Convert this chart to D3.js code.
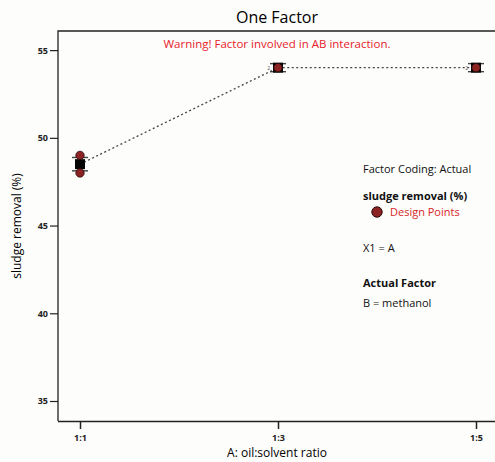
<!DOCTYPE html>
<html>
<head>
<meta charset="utf-8">
<script src="https://cdn.jsdelivr.net/npm/d3@7"></script>
<style>
  html, body { margin: 0; padding: 0; background: #fdfdfb; }
  svg { display: block; font-family: "Open Sans", "Noto Sans", sans-serif; }
</style>
</head>
<body>
<svg id="chart" width="495" height="462"></svg>
<script>
// Factor levels on the x axis
const categories = ["1:1", "1:3", "1:5"];
// Predicted mean response at each level
const predicted = [48.5, 54.0, 54.0];
// Half-width of the confidence interval at each level
const ciHalf = [0.38, 0.23, 0.23];
// Observed design points (level, response)
const designLevels = ["1:1", "1:1", "1:3", "1:5"];
const designValues = [49.0, 48.0, 54.0, 54.0];
// Replicate counts shown next to points
const replicateLevels = ["1:3", "1:5"];
const replicateCounts = ["2", "2"];
// Y tick values
const yTicks = [35, 40, 45, 50, 55];

const svg = d3.select("#chart");
const plot = { left: 58, right: 495, top: 31, bottom: 421 };

const x = d3.scalePoint().domain(categories).range([80, 476]);
const y = d3.scaleLinear().domain([33.86, 56.09]).range([plot.bottom, plot.top]);

// Title
svg.append("text").attr("x", 277).attr("y", 23).attr("text-anchor", "middle")
  .attr("font-size", 16).attr("fill", "#000").text("One Factor");

// Frame (left and top edges; the plot runs off the right side)
svg.append("path")
  .attr("d", `M${plot.left},${plot.bottom}V${plot.top}H${plot.right}`)
  .attr("fill", "none").attr("stroke", "#222").attr("stroke-width", 1.3);

// Warning
svg.append("text").attr("x", 277).attr("y", 48).attr("text-anchor", "middle")
  .attr("font-size", 11.5).attr("fill", "#e8202a").text("Warning! Factor involved in AB interaction.");

// Axes
const yAxis = d3.axisLeft(y).tickValues(yTicks).tickSize(8).tickPadding(2);
const gy = svg.append("g").attr("transform", `translate(${plot.left},0)`).call(yAxis);
gy.select(".domain").remove();
gy.selectAll("line").attr("stroke", "#222").attr("stroke-width", 1.2);
gy.selectAll("text").attr("font-size", 9).attr("font-weight", 700).attr("fill", "#222")
  .attr("font-family", "'Open Sans', sans-serif");

const xAxis = d3.axisBottom(x).tickSize(8).tickPadding(6);
const gx = svg.append("g").attr("transform", `translate(0,${plot.bottom})`).call(xAxis);
gx.select(".domain").attr("d", `M${plot.left},0.5H${plot.right}`).attr("stroke", "#222").attr("stroke-width", 1.3);
gx.selectAll("line").attr("stroke", "#222").attr("stroke-width", 1.5);
gx.selectAll("text").attr("font-size", 9).attr("font-weight", 700).attr("fill", "#222")
  .attr("font-family", "'Open Sans', sans-serif");

// Axis titles
svg.append("text").attr("x", 277).attr("y", 457).attr("text-anchor", "middle")
  .attr("font-size", 12).attr("fill", "#000").text("A: oil:solvent ratio");
svg.append("text").attr("transform", "translate(21,226) rotate(-90)").attr("text-anchor", "middle")
  .attr("font-size", 12).attr("fill", "#000").text("sludge removal (%)");

// Prediction line
const line = d3.line().x((d, i) => x(categories[i])).y(d => y(d));
svg.append("path").datum(predicted).attr("d", line)
  .attr("fill", "none").attr("stroke", "#444").attr("stroke-width", 1.3)
  .attr("stroke-dasharray", "2,2.5");

// Confidence interval bars
const ci = svg.append("g");
predicted.forEach((v, i) => {
  const cx = x(categories[i]);
  const lo = y(v - ciHalf[i]), hi = y(v + ciHalf[i]);
  ci.append("line").attr("x1", cx).attr("x2", cx).attr("y1", lo).attr("y2", hi)
    .attr("stroke", "#333").attr("stroke-width", 1);
  [lo, hi].forEach(yy => {
    ci.append("line").attr("x1", cx - 8).attr("x2", cx + 8).attr("y1", yy).attr("y2", yy)
      .attr("stroke", "#444").attr("stroke-width", 1.4);
  });
  ci.append("rect").attr("x", cx - 5).attr("y", y(v) - 5).attr("width", 10).attr("height", 10)
    .attr("fill", "#050505");
});

// Design points
svg.append("g").selectAll("circle").data(designValues).join("circle")
  .attr("cx", (d, i) => x(designLevels[i]))
  .attr("cy", d => y(d))
  .attr("r", 4.2)
  .attr("fill", "#8b2323").attr("stroke", "#2a0a0a").attr("stroke-width", 0.8);

// Replicate counts
svg.append("g").selectAll("text").data(replicateCounts).join("text")
  .attr("x", (d, i) => x(replicateLevels[i]) - 8)
  .attr("y", (d, i) => y(predicted[categories.indexOf(replicateLevels[i])]) + 2)
  .attr("text-anchor", "end").attr("font-size", 5).attr("fill", "#555").text(d => d);

// Legend
const lg = svg.append("g").attr("font-size", 11).attr("fill", "#111");
lg.append("text").attr("x", 363).attr("y", 173).text("Factor Coding: Actual");
lg.append("text").attr("x", 363).attr("y", 200).attr("font-weight", 700).text("sludge removal (%)");
lg.append("circle").attr("cx", 377).attr("cy", 212).attr("r", 5.2)
  .attr("fill", "#8b2323").attr("stroke", "#2a0a0a").attr("stroke-width", 1);
lg.append("text").attr("x", 390).attr("y", 216).attr("fill", "#d81f28").text("Design Points");
lg.append("text").attr("x", 363).attr("y", 252).text("X1 = A");
lg.append("text").attr("x", 363).attr("y", 287).attr("font-weight", 700).text("Actual Factor");
lg.append("text").attr("x", 363).attr("y", 307).text("B = methanol");
</script>
</body>
</html>
